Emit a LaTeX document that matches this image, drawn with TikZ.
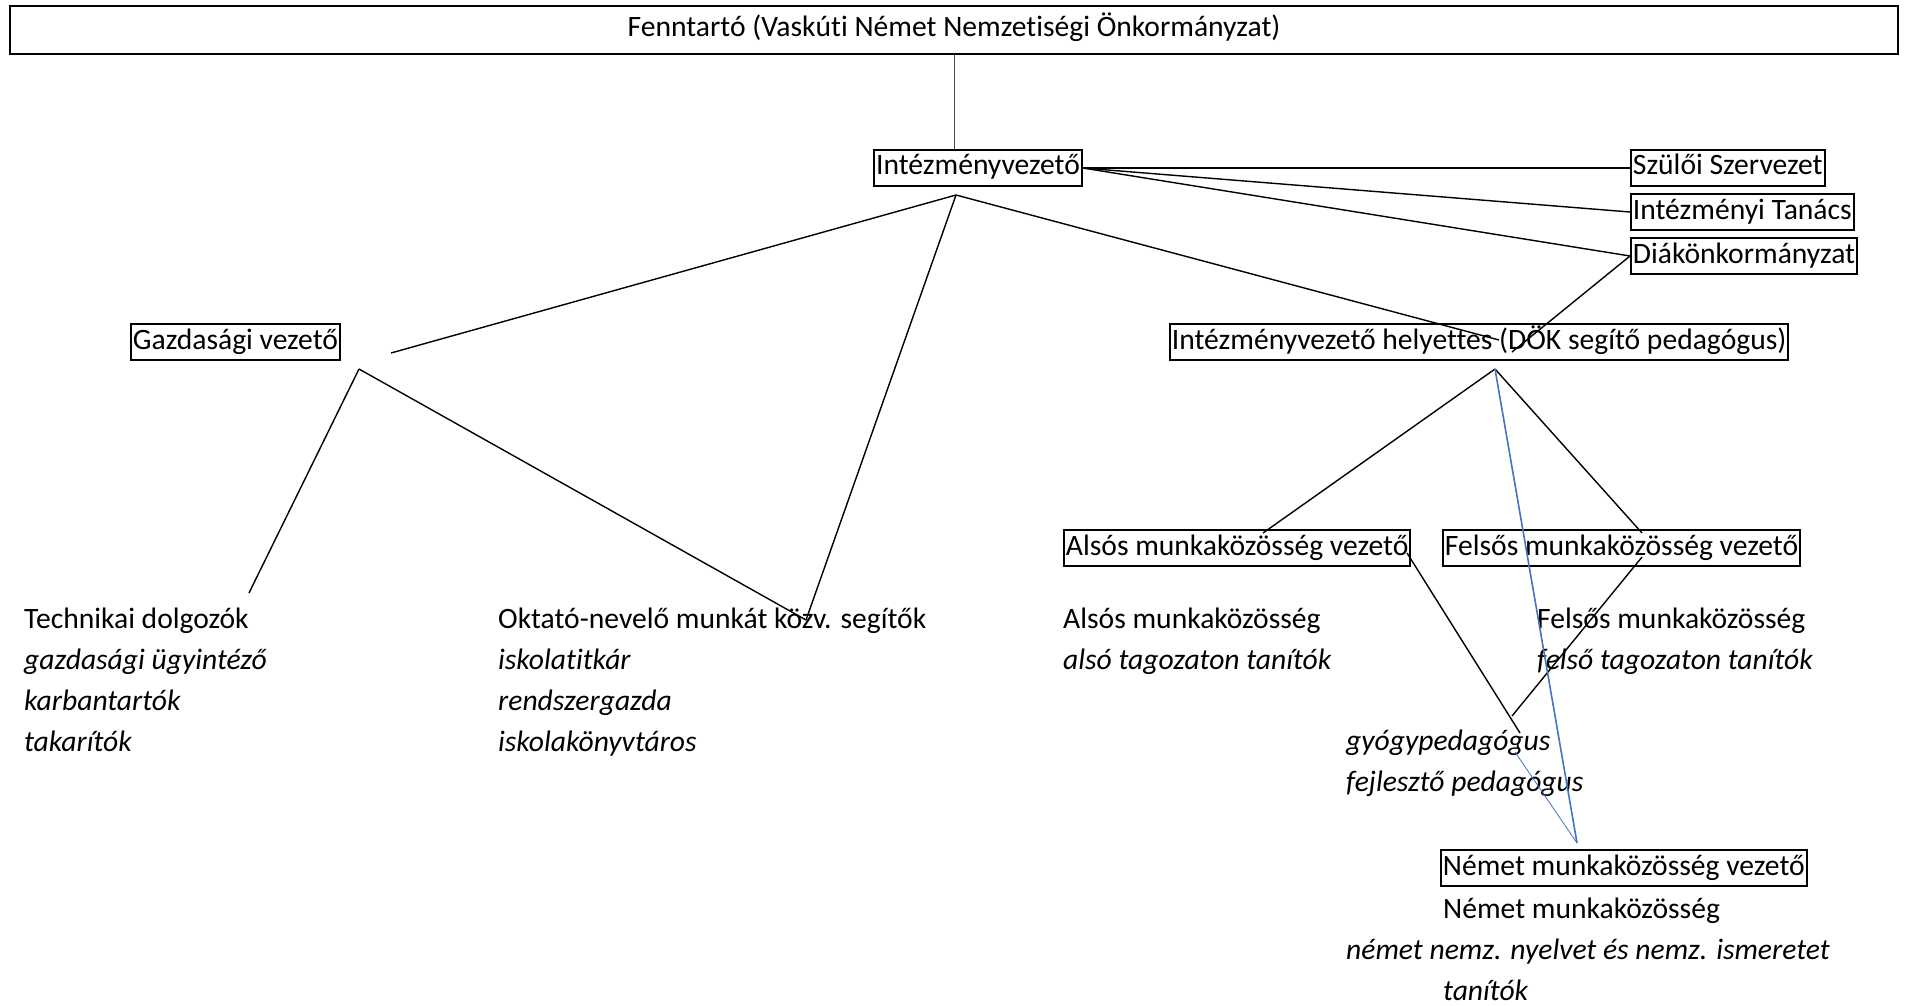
\documentclass[tikz,border=0pt]{standalone}
\usepackage{fontspec}
\setmainfont{Carlito}[Ligatures=NoCommon]
\usepackage{tikz}
\usetikzlibrary{positioning}
\definecolor{linkblue}{HTML}{4472C4}

\begin{document}
\begin{tikzpicture}[x=1pt, y=-1pt,
  unit/.style={draw=black, line width=1.8pt, inner xsep=2pt, inner ysep=4pt,
               text height=21pt, text depth=7pt, font=\fontsize{29.6}{41}\selectfont},
  group/.style={align=left, inner sep=0pt, anchor=base west,
                font=\fontsize{29.6}{41}\selectfont},
  link/.style={line width=1.4pt, color=black},
  bluelink/.style={line width=1.6pt, color=linkblue}
]
\useasboundingbox (0,0) rectangle (1908,1006);

% boxes
\node[unit, minimum width=1888pt, minimum height=48pt] (top) at (954,30)
  {Fenntartó (Vaskúti Német Nemzetiségi Önkormányzat)};
\node[unit] (iv) at (978,168) {Intézményvezető};
\node[unit, anchor=west] (szulo) at (1630,168) {Szülői Szervezet};
\node[unit, anchor=west] (tanacs) at (1630,212) {Intézményi Tanács};
\node[unit, anchor=west] (diak) at (1630,256) {Diákönkormányzat};
\node[unit, anchor=west] (gazd) at (130,342) {Gazdasági vezető};
\node[unit, anchor=west] (helyettes) at (1169,342) {Intézményvezető helyettes (DÖK segítő pedagógus)};
\node[unit, anchor=west] (also) at (1063,548) {Alsós munkaközösség vezető};
\node[unit, anchor=west] (felso) at (1442,548) {Felsős munkaközösség vezető};
\node[unit, anchor=west] (nemet) at (1440,868) {Német munkaközösség vezető};

% texts (anchored at the baseline of their last line)
\node[group] (tech) at (24,751) {Technikai dolgozók\\ \textit{gazdasági ügyintéző}\\
  \textit{karbantartók}\\ \textit{takarítók}};
\node[group] (oktato) at (498,751) {Oktató-nevelő munkát közv. segítők\\ \textit{iskolatitkár}\\
  \textit{rendszergazda}\\ \textit{iskolakönyvtáros}};
\node[group] (alsomk) at (1063,669) {Alsós munkaközösség\\ \textit{alsó tagozaton tanítók}};
\node[group] (felsomk) at (1537,669) {Felsős munkaközösség\\ \textit{felső tagozaton tanítók}};
\node[group] (gyogy) at (1346,791) {\textit{gyógypedagógus}\\ \textit{fejlesztő pedagógus}};
\node[group] (nemetmk) at (1443,918) {Német munkaközösség};
\node[group] (nemettan) at (1346,1000) {\textit{német nemz. nyelvet és nemz. ismeretet}\\
  \hspace*{97pt}\textit{tanítók}};

% free ends
\coordinate (ivfoot) at (956,195);
\coordinate (gtip) at (391,353);
\coordinate (gfoot) at (359,369);
\coordinate (ttip) at (249,593);
\coordinate (otip) at (806,620);
\coordinate (htip) at (1499,340);
\coordinate (dtip) at (1512,352);
\coordinate (hfoot) at (1495,369);
\coordinate (atop) at (1263,533);
\coordinate (ftop) at (1642,533);
\coordinate (aside) at (1407,553);
\coordinate (aend) at (1520,733);
\coordinate (fside) at (1642,557);
\coordinate (fend) at (1512,716);
\coordinate (ntip) at (1577,843);
\coordinate (gytip) at (1515,752);

% connectors
\draw[line width=0.8pt, color=black!70] (top.south) -- (top.south |- iv.north);
\draw[link] (iv.east) -- (szulo.west);
\draw[link] (iv.east) -- (tanacs.west);
\draw[link] (iv.east) -- (diak.west);
\draw[link] (diak.west) -- (dtip);
\draw[link] (ivfoot) -- (htip);
\draw[link] (ivfoot) -- (gtip);
\draw[link] (ivfoot) -- (otip);
\draw[link] (gfoot) -- (ttip);
\draw[link] (gfoot) -- (otip);
\draw[link] (hfoot) -- (atop);
\draw[link] (hfoot) -- (ftop);
\draw[link] (aside) -- (aend);
\draw[link] (fside) -- (fend);
\draw[bluelink] (hfoot) -- (ntip);
\draw[bluelink, line width=0.8pt] (gytip) -- (ntip);
\end{tikzpicture}
\end{document}
